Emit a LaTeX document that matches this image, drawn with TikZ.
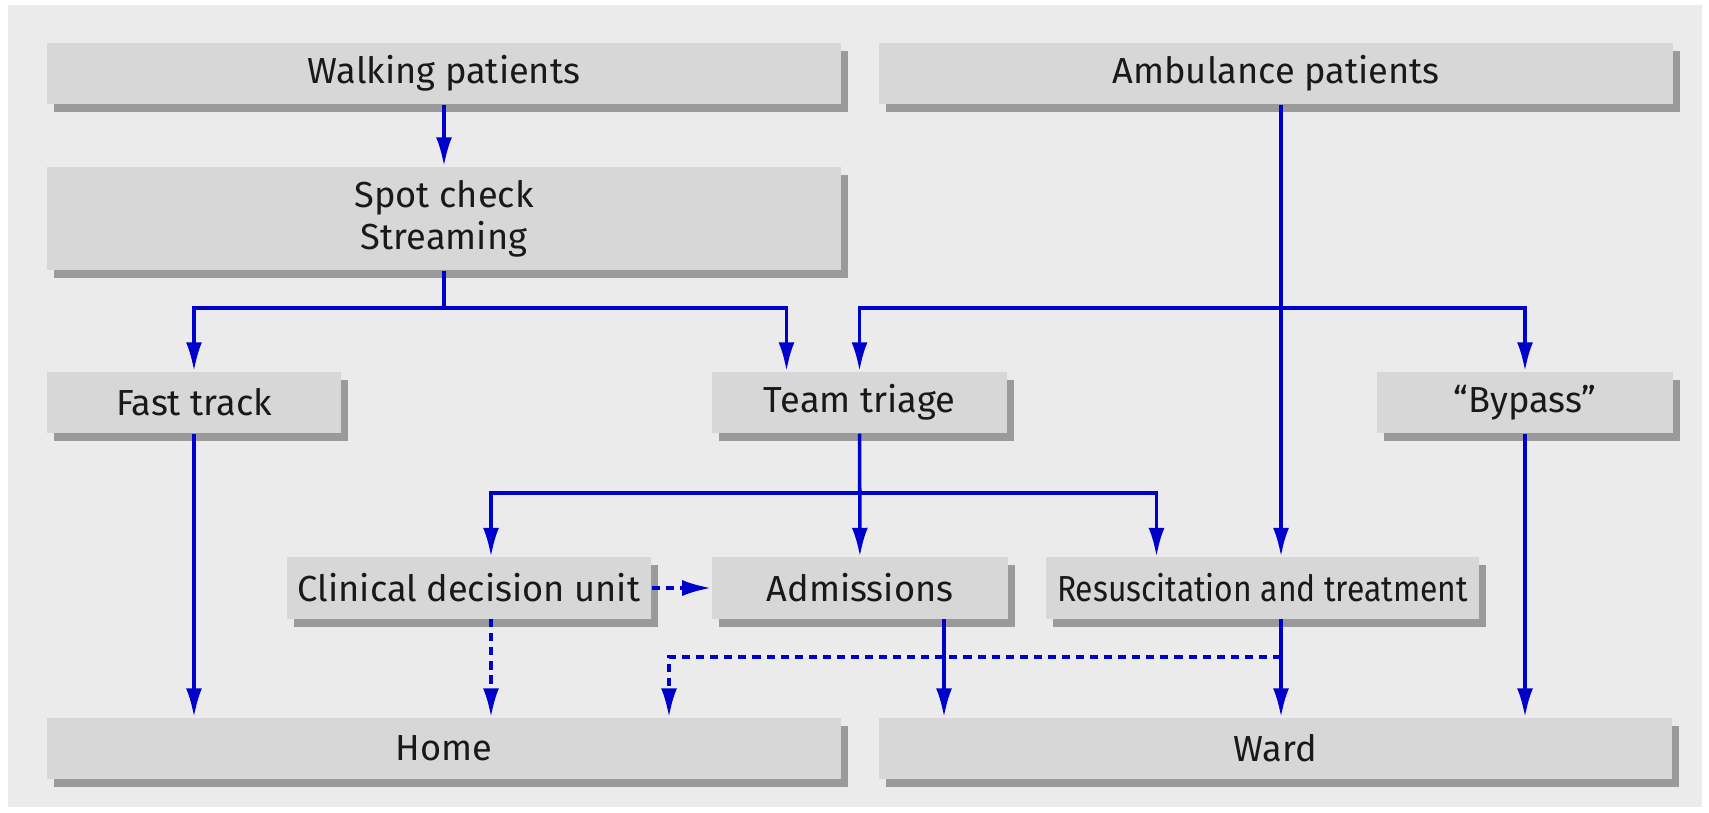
\documentclass[tikz,border=0pt]{standalone}
\usepackage{fontspec}
\setmainfont{Fira Sans}
\newfontfamily\narrowsans[FakeStretch=0.88]{Fira Sans}
\usetikzlibrary{arrows.meta,positioning,calc,shadows}
\definecolor{panelgray}{RGB}{235,235,235}
\definecolor{boxgray}{RGB}{215,215,215}
\definecolor{shadegray}{RGB}{154,154,154}
\definecolor{flowblue}{RGB}{0,0,204}

\begin{document}
\begin{tikzpicture}[
    x=0.01cm, y=-0.01cm,
    stage/.style={fill=boxgray, minimum height=0.61cm, inner sep=0pt, align=center,
        font=\fontsize{10.3}{11.9}\selectfont, text=black!90,
        drop shadow={shadow xshift=0.07cm, shadow yshift=-0.08cm, fill=shadegray, opacity=1}},
    flow/.style={->, line width=1pt, draw=flowblue},
    maybe/.style={flow, dash pattern=on 2.3pt off 1.7pt},
    >={Latex[length=2.9mm,width=1.6mm]}
]
\useasboundingbox (0,0) rectangle (1709,812);
\fill[panelgray] (8,5) rectangle (1702,807);

% Arrivals
\node[stage, minimum width=7.94cm] (walk) at (444,73.5) {Walking patients};
\node[stage, minimum width=7.94cm] (amb) at (1276,73.5) {Ambulance patients};
\node[stage, minimum width=7.94cm, minimum height=1.03cm] (spot) at (444,218.5) {Spot check\\Streaming};

% First assessment
\node[stage, minimum width=2.94cm] (fast) at (194,402.5) {Fast track};
\node[stage, minimum width=2.95cm] (team) at (859.5,402.5) {Team triage};
\node[stage, minimum width=2.95cm] (bypass) at (1525,402.5) {“Bypass”};

% Treatment
\node[stage, minimum width=3.64cm] (cdu) at (469,588) {Clinical decision unit};
\node[stage, minimum width=2.96cm] (adm) at (860,588) {Admissions};
\node[stage, minimum width=4.33cm, font=\narrowsans\fontsize{10.3}{11.9}\selectfont] (resus) at (1262.5,588) {Resuscitation and treatment};

% Outcomes
\node[stage, minimum width=7.94cm] (home) at (444,748.5) {Home};
\node[stage, minimum width=7.93cm] (ward) at (1275.5,748.5) {Ward};

% Forks
\coordinate (walkfork) at (444,308);
\coordinate (ambfork) at (1281,308);
\coordinate (teamfork) at (859.5,493);
\coordinate (resusout) at (1281,657);
\coordinate (cduout) at ($(cdu.south)+(22,0)$);
\coordinate (admout) at ($(adm.south)+(84,0)$);

\draw[flow] (walk) -- (spot);
\draw[flow] (spot.south) -- (walkfork) -| (fast);
\draw[flow] (walkfork) -| ($(team.north)+(-73,0)$);
\draw[flow] (amb.south -| ambfork) -- (ambfork |- resus.north);
\draw[flow] (ambfork) -| (team);
\draw[flow] (ambfork) -| (bypass);
\draw[flow] (team) -- (adm);
\draw[flow] (teamfork) -| ($(cdu.north)+(22,0)$);
\draw[flow] (teamfork) -| ($(resus.north)+(-106,0)$);
\draw[flow] (fast.south) -- (fast.south |- home.north);
\draw[flow] (admout) -- (admout |- ward.north);
\draw[flow] (resus.south -| ambfork) -- (ambfork |- ward.north);
\draw[flow] (bypass) -- (bypass |- ward.north);

% Possible routes
\draw[maybe] (cdu) -- (adm);
\draw[maybe] (cduout) -- (cduout |- home.north);
\draw[maybe] (resusout) -| ($(home.north)+(225,0)$);
\end{tikzpicture}
\end{document}
